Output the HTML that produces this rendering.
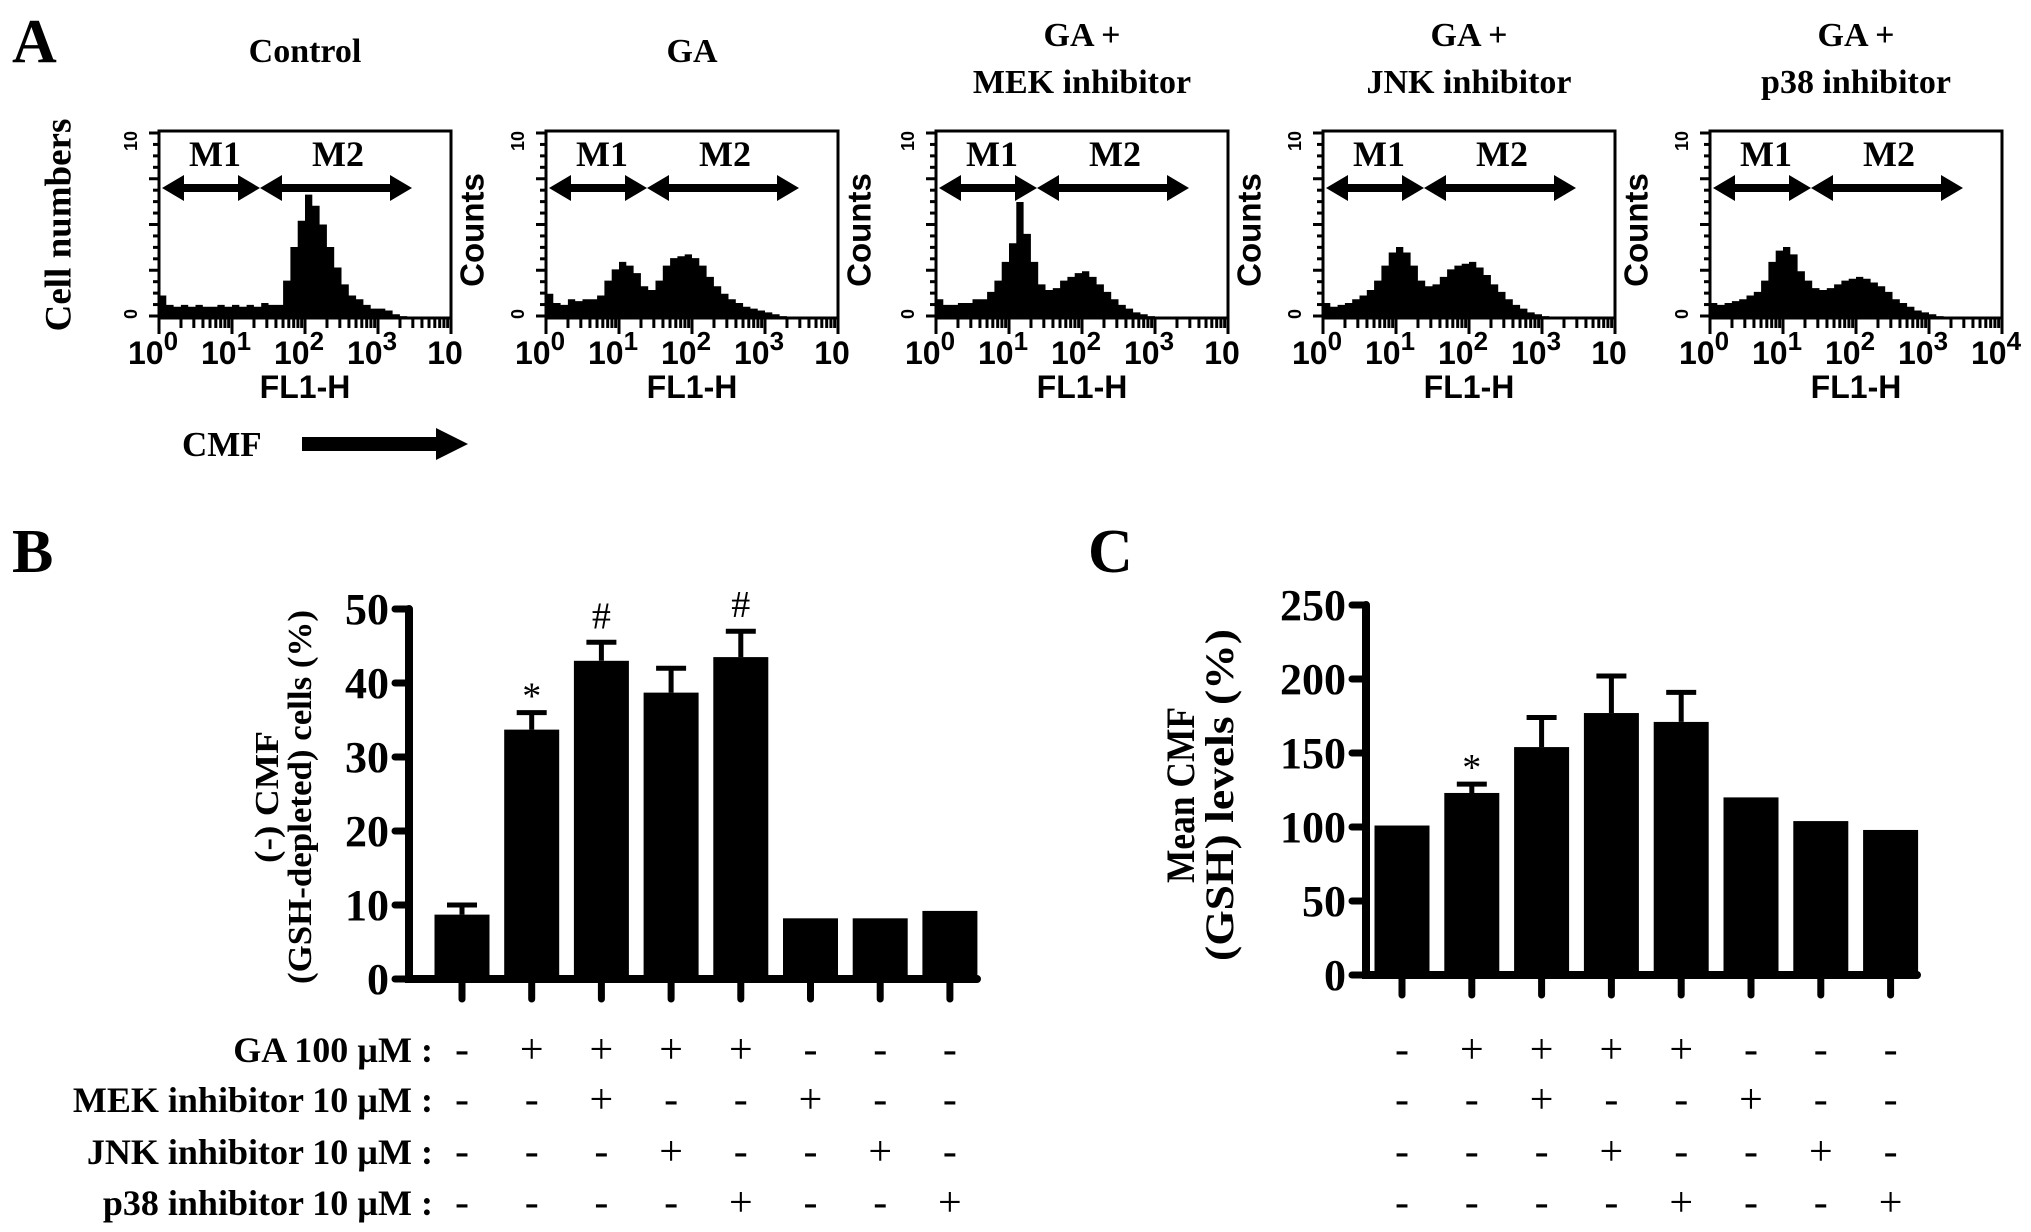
<!DOCTYPE html>
<html><head><meta charset="utf-8">
<style>
html,body{margin:0;padding:0;background:#fff;}
svg{display:block;}
.serif{font-family:"Liberation Serif",serif;font-weight:bold;}
.sans{font-family:"Liberation Sans",sans-serif;font-weight:bold;}
</style></head>
<body>
<svg id="fig" width="2031" height="1232" viewBox="0 0 2031 1232" xmlns="http://www.w3.org/2000/svg">
<text x="12" y="62" class="serif" font-size="62">A</text>
<text x="62" y="225" class="serif" font-size="37" text-anchor="middle" transform="rotate(-90 62 225)" dominant-baseline="middle">Cell numbers</text>
<text x="182" y="456" class="serif" font-size="35">CMF</text>
<path d="M302 437 H436 V428 L468 444 L436 460 V451 H302 Z" fill="#000"/>
<text x="12" y="572" class="serif" font-size="62">B</text>
<text x="1088" y="572" class="serif" font-size="62">C</text>
<g id="gA"></g><g id="gB"></g><g id="gC"></g>
</svg>
<script>
const NS="http://www.w3.org/2000/svg";
// ---- Panel A data ----
const histTitles=[["Control"],["GA"],["GA +","MEK inhibitor"],["GA +","JNK inhibitor"],["GA +","p38 inhibitor"]];
const histControl=[0.12,0.07,0.06,0.07,0.06,0.07,0.06,0.06,0.07,0.06,0.07,0.06,0.07,0.06,0.08,0.07,0.07,0.2,0.38,0.52,0.66,0.6,0.5,0.38,0.27,0.18,0.12,0.1,0.07,0.05,0.05,0.04,0.02,0.01,0,0,0,0,0,0];
const histGA=[0.13,0.08,0.07,0.1,0.09,0.1,0.1,0.12,0.2,0.26,0.3,0.28,0.24,0.17,0.15,0.2,0.28,0.32,0.33,0.34,0.32,0.28,0.22,0.17,0.13,0.1,0.08,0.06,0.05,0.04,0.03,0.02,0.01,0,0,0,0,0,0,0];
const histMEK=[0.1,0.07,0.07,0.08,0.08,0.1,0.1,0.14,0.2,0.3,0.4,0.62,0.45,0.3,0.18,0.15,0.16,0.2,0.22,0.24,0.25,0.22,0.18,0.14,0.1,0.07,0.05,0.03,0.02,0.01,0,0,0,0,0,0,0,0,0,0];
const histJNK=[0.08,0.06,0.07,0.08,0.1,0.12,0.15,0.2,0.28,0.35,0.38,0.35,0.28,0.2,0.17,0.18,0.22,0.26,0.28,0.29,0.3,0.27,0.23,0.18,0.14,0.1,0.07,0.05,0.03,0.02,0.01,0,0,0,0,0,0,0,0,0];
const histP38=[0.08,0.07,0.08,0.09,0.1,0.12,0.14,0.2,0.3,0.36,0.38,0.34,0.25,0.2,0.16,0.15,0.16,0.18,0.2,0.21,0.22,0.21,0.19,0.17,0.14,0.1,0.08,0.06,0.04,0.03,0.02,0.01,0,0,0,0,0,0,0,0];
const decadeLabels=["0","1","2","3",""];
// ---- Panel B data ----
const bValues=[8.7,33.7,43,38.7,43.5,8.2,8.2,9.2];
const bErrors=[1.3,2.3,2.5,3.3,3.5,0,0,0];
const bMarks=["","*","#","","#","","",""];
const bTicks=[0,10,20,30,40,50];
// ---- Panel C data ----
const cValues=[101,123,154,177,171,120,104,98];
const cErrors=[0,6,20,25,20,0,0,0];
const cMarks=["","*","","","","","",""];
const cTicks=[0,50,100,150,200,250];
// ---- treatment table ----
const rowLabels=["GA 100 \u00b5M :","MEK inhibitor 10 \u00b5M :","JNK inhibitor 10 \u00b5M :","p38 inhibitor 10 \u00b5M :"];
const rowGA=["-","+","+","+","+","-","-","-"];
const rowMEK=["-","-","+","-","-","+","-","-"];
const rowJNK=["-","-","-","+","-","-","+","-"];
const rowP38=["-","-","-","-","+","-","-","+"];

function el(tag,attrs,parent,text){const e=document.createElementNS(NS,tag);for(const k in attrs)e.setAttribute(k,attrs[k]);if(text!==undefined)e.textContent=text;parent.appendChild(e);return e;}

// Panel A
const gA=document.getElementById('gA');
const hists=[histControl,histGA,histMEK,histJNK,histP38];
const boxLefts=[159,546,936,1323,1710];
const boxW=292, boxTop=131, boxBot=318, boxH=boxBot-boxTop;
hists.forEach((h,p)=>{
  const L=boxLefts[p];
  const g=el('g',{},gA);
  
  
  const cx=L+boxW/2;
  const t=histTitles[p];
  t.forEach((line,i)=>{
    const y=t.length===1?62:(46+i*47);
    const tt=el('text',{x:cx,y:y,'text-anchor':'middle','class':'serif','font-size':34},g,line);
    
    
  });
  const xs=v=>L+v/4*boxW;
  let d='M'+L+' '+boxBot;
  h.forEach((v,i)=>{const x0=xs(i*0.1),x1=xs((i+1)*0.1),y=boxBot-v*boxH;d+=' L'+x0+' '+y+' L'+x1+' '+y;});
  d+=' L'+(L+boxW)+' '+boxBot+' Z';
  const hp=el('path',{d:d,fill:'#000'},g);
  
  
  const bx=el('rect',{x:L,y:boxTop,width:boxW,height:boxH,fill:'none',stroke:'#000','stroke-width':3},g);
  
  
  for(let i=0;i<=16;i++){const y=boxTop+2+i*(boxH-4)/16;el('line',{x1:L-(i%4===0?10:6),x2:L,y1:y,y2:y,stroke:'#000','stroke-width':3},g);}
  el('text',{x:L-22,y:boxTop+10,'class':'sans','font-size':18,'text-anchor':'middle',transform:'rotate(-90 '+(L-22)+' '+(boxTop+10)+')'},g,'10');
  el('text',{x:L-22,y:boxBot-4,'class':'sans','font-size':18,'text-anchor':'middle',transform:'rotate(-90 '+(L-22)+' '+(boxBot-4)+')'},g,'0');
  for(let dcd=0;dcd<4;dcd++){for(let k=1;k<=10;k++){const x=xs(dcd+Math.log10(k));el('line',{x1:x,x2:x,y1:boxBot,y2:boxBot+(k===1?16:10),stroke:'#000','stroke-width':3},g);}}
  el('line',{x1:xs(4),x2:xs(4),y1:boxBot,y2:boxBot+16,stroke:'#000','stroke-width':3},g);
  for(let dcd=0;dcd<=4;dcd++){
    const sup=(p===4&&dcd===4)?'4':decadeLabels[dcd];
    const tl=el('text',{x:xs(dcd)-6,y:364,'class':'sans','font-size':32,'text-anchor':'middle'},g);
    
    
    el('tspan',{},tl,'10');
    if(sup)el('tspan',{dy:-14,'font-size':26},tl,sup);
  }
  const fl=el('text',{x:cx,y:398,'class':'sans','font-size':32,'text-anchor':'middle'},g,'FL1-H');
  
  
  if(p<4){
    const ct=el('text',{x:L+boxW+24,y:230,'class':'sans','font-size':33,'text-anchor':'middle','dominant-baseline':'middle',transform:'rotate(-90 '+(L+boxW+24)+' 230)'},g,'Counts');
    
    
  }
  const ay=188;
  const arr=(x0,x1,nm)=>{
    const a=el('path',{d:'M'+x0+' '+ay+' l22 -13 v9 H'+(x1-22)+' v-9 l22 13 l-22 13 v-9 H'+(x0+22)+' v9 Z',fill:'#000'},g);
    
    
  };
  arr(L+3,L+101,'m1-range');arr(L+101,L+253,'m2-range');
  el('text',{x:L+56,y:166,'class':'serif','font-size':36,'text-anchor':'middle'},g,'M1');
  el('text',{x:L+179,y:166,'class':'serif','font-size':36,'text-anchor':'middle'},g,'M2');
});

function barChart(gid,vals,errs,marks,ticks,axisX,y0,yTop,x0c,step,xEnd,ymax,lab1,lab2,labX1,labX2,labY,labSize,len1,len2,pref){
  const g=document.getElementById(gid);
  const yS=v=>y0-(v/ymax)*(y0-yTop);
  const xS=i=>x0c+i*step;
  const bw=55;
  vals.forEach((v,i)=>{
    const x=xS(i);
    const r=el('rect',{x:x-bw/2,y:yS(v),width:bw,height:y0-yS(v),fill:'#000'},g);
    
    
    if(errs[i]>0){
      const ye=yS(v+errs[i]);
      const e=el('path',{d:'M'+x+' '+yS(v)+' V'+ye+' M'+(x-15)+' '+ye+' H'+(x+15),stroke:'#000','stroke-width':5,fill:'none'},g);
      
      
    }
    if(marks[i]){
      const top=yS(v+errs[i]);
      const m=el('text',{x:x,y:top-(marks[i]==='*'?4:14),'class':'serif','font-size':38,'text-anchor':'middle',style:'font-weight:normal'},g,marks[i]);
      
      
    }
    el('line',{x1:x,x2:x,y1:y0,y2:y0+20,stroke:'#000','stroke-width':7,'stroke-linecap':'round'},g);
  });
  const ax=el('path',{d:'M'+axisX+' '+yTop+' V'+y0+' H'+xEnd,stroke:'#000','stroke-width':8,fill:'none','stroke-linecap':'round'},g);
  
  
  ticks.forEach(t=>{
    const y=yS(t);
    el('line',{x1:axisX-14,x2:axisX,y1:y,y2:y,stroke:'#000','stroke-width':7,'stroke-linecap':'round'},g);
    const tl=el('text',{x:axisX-20,y:y+15,'class':'serif','font-size':44,'text-anchor':'end'},g,String(t));
    
    
  });
  const l1=el('text',{x:labX1,y:labY,'class':'serif','font-size':labSize,'text-anchor':'middle','dominant-baseline':'middle',textLength:len1,lengthAdjust:'spacingAndGlyphs',transform:'rotate(-90 '+labX1+' '+labY+')'},g,lab1);
  
  
  const l2=el('text',{x:labX2,y:labY,'class':'serif','font-size':labSize,'text-anchor':'middle','dominant-baseline':'middle',textLength:len2,lengthAdjust:'spacingAndGlyphs',transform:'rotate(-90 '+labX2+' '+labY+')'},g,lab2);
  
  
  const rows=[rowGA,rowMEK,rowJNK,rowP38];
  const rowY=[1050,1100,1152,1203];
  rows.forEach((r,ri)=>{
    r.forEach((s,i)=>{
      const t=el('text',{x:xS(i),y:rowY[ri]+13,'class':'serif','font-size':42,'text-anchor':'middle',style:'font-weight:normal'},g,s);
      
      
    });
  });
  return {g,rowY};
}
const b=barChart('gB',bValues,bErrors,bMarks,bTicks,409,979,609,462,69.7,977,50,'(-) CMF','(GSH-depleted) cells (%)',270,303,797,34,132,374,'b');
rowLabels.forEach((lab,i)=>{
  const t=el('text',{x:433,y:b.rowY[i]+12,'class':'serif','font-size':36,'text-anchor':'end'},b.g,lab);
  
  
});
barChart('gC',cValues,cErrors,cMarks,cTicks,1366,975,605,1402,69.8,1917,250,'Mean CMF','(GSH) levels (%)',1185,1224,795,40,176,332,'c');
</script>
</body></html>
